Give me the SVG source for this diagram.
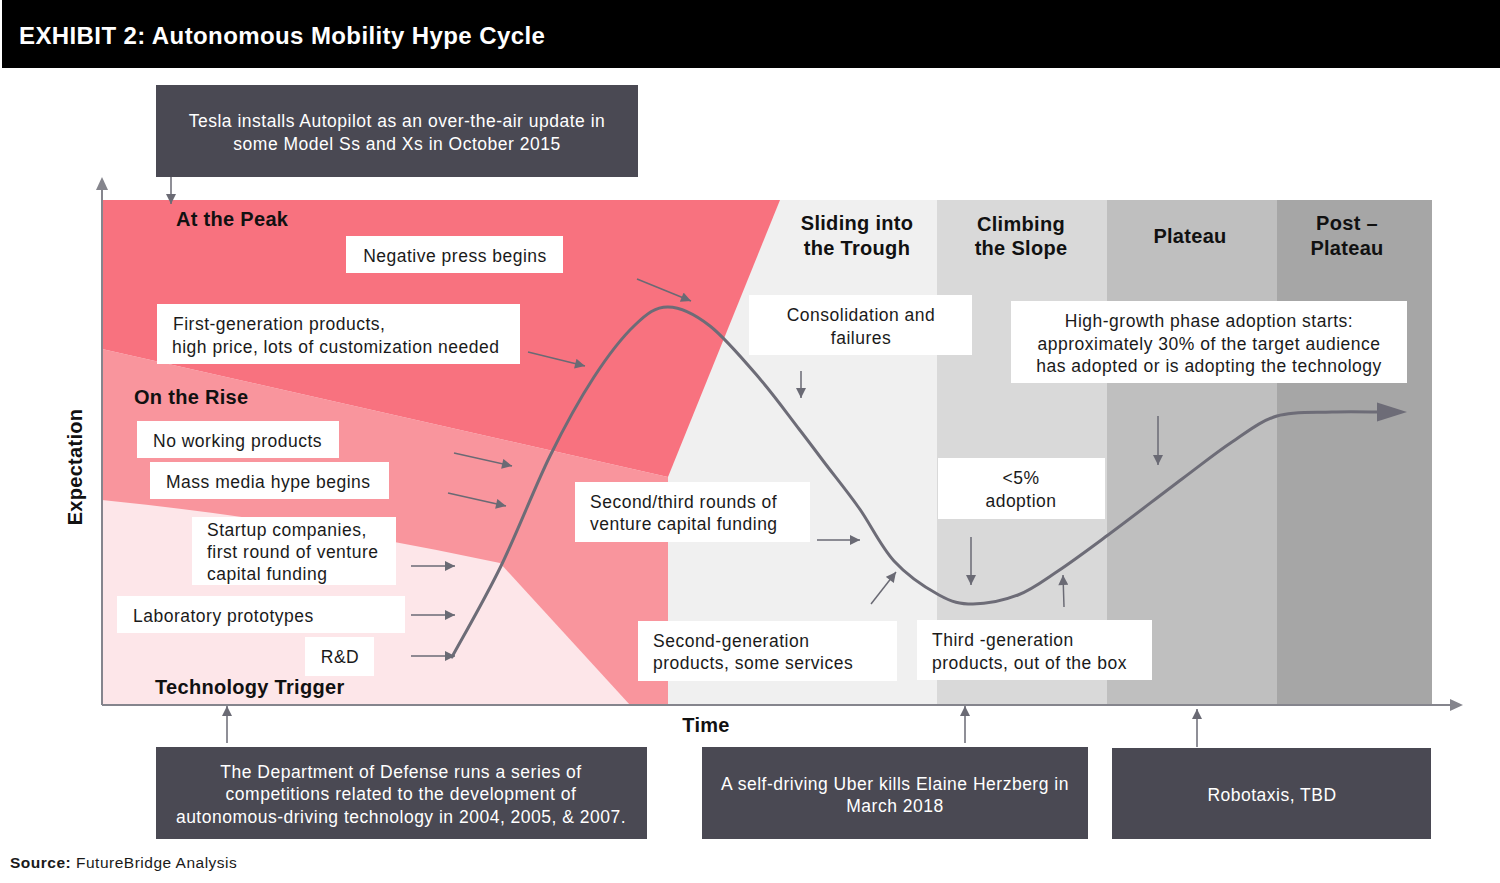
<svg xmlns="http://www.w3.org/2000/svg" width="1500" height="883" viewBox="0 0 1500 883">
<defs>
<style>
.t{font-family:"Liberation Sans",Arial,sans-serif;font-size:17.5px;letter-spacing:0.5px;fill:#1a1a1a}
.c{text-anchor:middle}
.ph{font-family:"Liberation Sans",Arial,sans-serif;font-size:20px;font-weight:bold;letter-spacing:0.3px;fill:#111111}
.box{fill:#ffffff}
.dbox{fill:#4a4953}
.dt{font-family:"Liberation Sans",Arial,sans-serif;font-size:17.5px;letter-spacing:0.5px;fill:#ffffff;text-anchor:middle}
.arr{stroke:#6a6a74;stroke-width:1.5;fill:none;marker-end:url(#ah)}
.ax{stroke:#85858d;stroke-width:2;fill:none}
</style>
<marker id="ah" viewBox="0 0 10 10" refX="10" refY="5" markerWidth="11" markerHeight="10" markerUnits="userSpaceOnUse" orient="auto">
<path d="M0,0 L10,5 L0,10 z" fill="#6a6a74"/>
</marker>
</defs>
<rect width="1500" height="883" fill="#ffffff"/>
<g id="header">
<rect x="2" y="0" width="1498" height="68" fill="#000000"/>
<text x="19" y="44" font-family="'Liberation Sans',Arial,sans-serif" font-size="24" font-weight="bold" letter-spacing="0.4" fill="#ffffff">EXHIBIT 2: Autonomous Mobility Hype Cycle</text>
</g>
<g id="background">
<rect x="668" y="200" width="269" height="505" fill="#f0f0f0"/>
<rect x="937" y="200" width="170" height="505" fill="#d9d9d9"/>
<rect x="1107" y="200" width="170" height="505" fill="#bfbfbf"/>
<rect x="1277" y="200" width="155" height="505" fill="#a6a6a6"/>
<polygon points="102,349 668,477 668,705 102,705" fill="#f9959d"/>
<path d="M102,500 Q300,520 500,563 L630,705 L102,705 Z" fill="#fde6e9"/>
<polygon points="102,200 780,200 668,477 102,349" fill="#f8727f"/>
</g>
<g id="axes">
<line x1="102" y1="705" x2="102" y2="190" class="ax"/>
<polygon points="96,190 102,177 108,190" fill="#85858d"/>
<line x1="102" y1="705" x2="1450" y2="705" class="ax"/>
<polygon points="1450,699 1463,705 1450,711" fill="#85858d"/>
<text x="706" y="732" class="ph c" font-size="21" letter-spacing="0.5">Time</text>
<text transform="translate(82,467) rotate(-90)" class="ph c" font-size="21" letter-spacing="0.5">Expectation</text>
</g>
<g id="phase-labels">
<text x="176" y="226" class="ph">At the Peak</text>
<text x="134" y="404" class="ph">On the Rise</text>
<text x="155" y="694" class="ph">Technology Trigger</text>
<text x="857" y="230" class="ph c">Sliding into</text>
<text x="857" y="255" class="ph c">the Trough</text>
<text x="1021" y="231" class="ph c">Climbing</text>
<text x="1021" y="255" class="ph c">the Slope</text>
<text x="1190" y="243" class="ph c">Plateau</text>
<text x="1347" y="230" class="ph c">Post –</text>
<text x="1347" y="255" class="ph c">Plateau</text>
</g>
<g id="curve">
<path d="M452,657 C460.2,641.8 484.7,599.5 501,566 C517.3,532.5 534.5,487.5 550,456 C565.5,424.5 579.8,398.8 594,377 C608.2,355.2 622.7,336.7 635,325 C647.3,313.3 655.5,306.8 668,307 C680.5,307.2 694.7,314 710,326 C725.3,338 745.2,361.8 760,379 C774.8,396.2 788.3,415.2 799,429 C809.7,442.8 814,448.8 824,462 C834,475.2 847.3,491.5 859,508 C870.7,524.5 880.7,546.5 894,561 C907.3,575.5 925.8,587.8 939,595 C952.2,602.2 959.8,604 973,604 C986.2,604 1003.8,600.5 1018,595 C1032.2,589.5 1043,581 1058,571 C1073,561 1087.3,550.3 1108,535 C1128.7,519.7 1161.3,494.5 1182,479 C1202.7,463.5 1216.2,452.5 1232,442 C1247.8,431.5 1260.3,421 1277,416 C1293.7,411 1314,412.7 1332,412 C1350,411.3 1372,412 1382,412" fill="none" stroke="#6d6c77" stroke-width="3" stroke-linecap="round"/>
<polygon points="1377,402.5 1407,412 1377,421.5" fill="#6d6c77"/>
</g>
<g id="connectors">
<line x1="171" y1="177" x2="171" y2="204" class="arr"/>
<line x1="637" y1="279" x2="691" y2="301" class="arr"/>
<line x1="528" y1="352" x2="585" y2="366" class="arr"/>
<line x1="454" y1="453" x2="512" y2="466" class="arr"/>
<line x1="448" y1="493" x2="506" y2="506" class="arr"/>
<line x1="411" y1="566" x2="455" y2="566" class="arr"/>
<line x1="411" y1="615" x2="455" y2="615" class="arr"/>
<line x1="411" y1="656" x2="455" y2="656" class="arr"/>
<line x1="801" y1="371" x2="801" y2="398" class="arr"/>
<line x1="817" y1="540" x2="860" y2="540" class="arr"/>
<line x1="871" y1="604" x2="896" y2="572" class="arr"/>
<line x1="971" y1="537" x2="971" y2="585" class="arr"/>
<line x1="1064" y1="607" x2="1063" y2="575" class="arr"/>
<line x1="1158" y1="416" x2="1158" y2="465" class="arr"/>
<line x1="227" y1="743" x2="227" y2="706" class="arr"/>
<line x1="965" y1="743" x2="965" y2="706" class="arr"/>
<line x1="1197" y1="747" x2="1197" y2="709" class="arr"/>
</g>
<g id="tesla">
<rect x="156" y="85" width="482" height="92" class="dbox"/>
<text x="397" y="127" class="dt">Tesla installs Autopilot as an over-the-air update in</text>
<text x="397" y="150" class="dt">some Model Ss and Xs in October 2015</text>
</g>
<g id="negative-press">
<rect x="346" y="236" width="217" height="37" class="box"/>
<text x="455" y="262" class="t c">Negative press begins</text>
</g>
<g id="first-gen">
<rect x="157" y="304" width="363" height="60" class="box"/>
<text x="173" y="330" class="t">First-generation products,</text>
<text x="172" y="353" class="t">high price, lots of customization needed</text>
</g>
<g id="no-working">
<rect x="137" y="421" width="202" height="37" class="box"/>
<text x="153" y="447" class="t">No working products</text>
</g>
<g id="mass-media">
<rect x="150" y="462" width="239" height="37" class="box"/>
<text x="166" y="488" class="t">Mass media hype begins</text>
</g>
<g id="startup">
<rect x="192" y="517" width="204" height="68" class="box"/>
<text x="207" y="536" class="t">Startup companies,</text>
<text x="207" y="558" class="t">first round of venture</text>
<text x="207" y="580" class="t">capital funding</text>
</g>
<g id="lab">
<rect x="117" y="596" width="288" height="37" class="box"/>
<text x="133" y="622" class="t">Laboratory prototypes</text>
</g>
<g id="rnd">
<rect x="305" y="637" width="69" height="39" class="box"/>
<text x="340" y="663" class="t c">R&amp;D</text>
</g>
<g id="consolidation">
<rect x="749" y="295" width="223" height="60" class="box"/>
<text x="861" y="321" class="t c">Consolidation and</text>
<text x="861" y="344" class="t c">failures</text>
</g>
<g id="second-third">
<rect x="575" y="482" width="235" height="60" class="box"/>
<text x="590" y="508" class="t">Second/third rounds of</text>
<text x="590" y="530" class="t">venture capital funding</text>
</g>
<g id="second-gen">
<rect x="638" y="621" width="259" height="60" class="box"/>
<text x="653" y="647" class="t">Second-generation</text>
<text x="653" y="669" class="t">products, some services</text>
</g>
<g id="adoption5">
<rect x="938" y="458" width="167" height="61" class="box"/>
<text x="1021" y="484" class="t c">&lt;5%</text>
<text x="1021" y="507" class="t c">adoption</text>
</g>
<g id="third-gen">
<rect x="917" y="620" width="235" height="60" class="box"/>
<text x="932" y="646" class="t">Third -generation</text>
<text x="932" y="669" class="t">products, out of the box</text>
</g>
<g id="high-growth">
<rect x="1011" y="301" width="396" height="82" class="box"/>
<text x="1209" y="327" class="t c">High-growth phase adoption starts:</text>
<text x="1209" y="350" class="t c">approximately 30% of the target audience</text>
<text x="1209" y="372" class="t c">has adopted or is adopting the technology</text>
</g>
<g id="dod">
<rect x="156" y="747" width="491" height="92" class="dbox"/>
<text x="401" y="778" class="dt">The Department of Defense runs a series of</text>
<text x="401" y="800" class="dt">competitions related to the development of</text>
<text x="401" y="823" class="dt">autonomous-driving technology in 2004, 2005, &amp; 2007.</text>
</g>
<g id="uber">
<rect x="702" y="747" width="386" height="92" class="dbox"/>
<text x="895" y="790" class="dt">A self-driving Uber kills Elaine Herzberg in</text>
<text x="895" y="812" class="dt">March 2018</text>
</g>
<g id="robotaxis">
<rect x="1112" y="748" width="319" height="91" class="dbox"/>
<text x="1272" y="801" class="dt">Robotaxis, TBD</text>
</g>
<g id="source">
<text x="10" y="868" font-family="'Liberation Sans',Arial,sans-serif" font-size="15.5" letter-spacing="0.5" fill="#1a1a1a"><tspan font-weight="bold">Source:</tspan> FutureBridge Analysis</text>
</g>
</svg>
